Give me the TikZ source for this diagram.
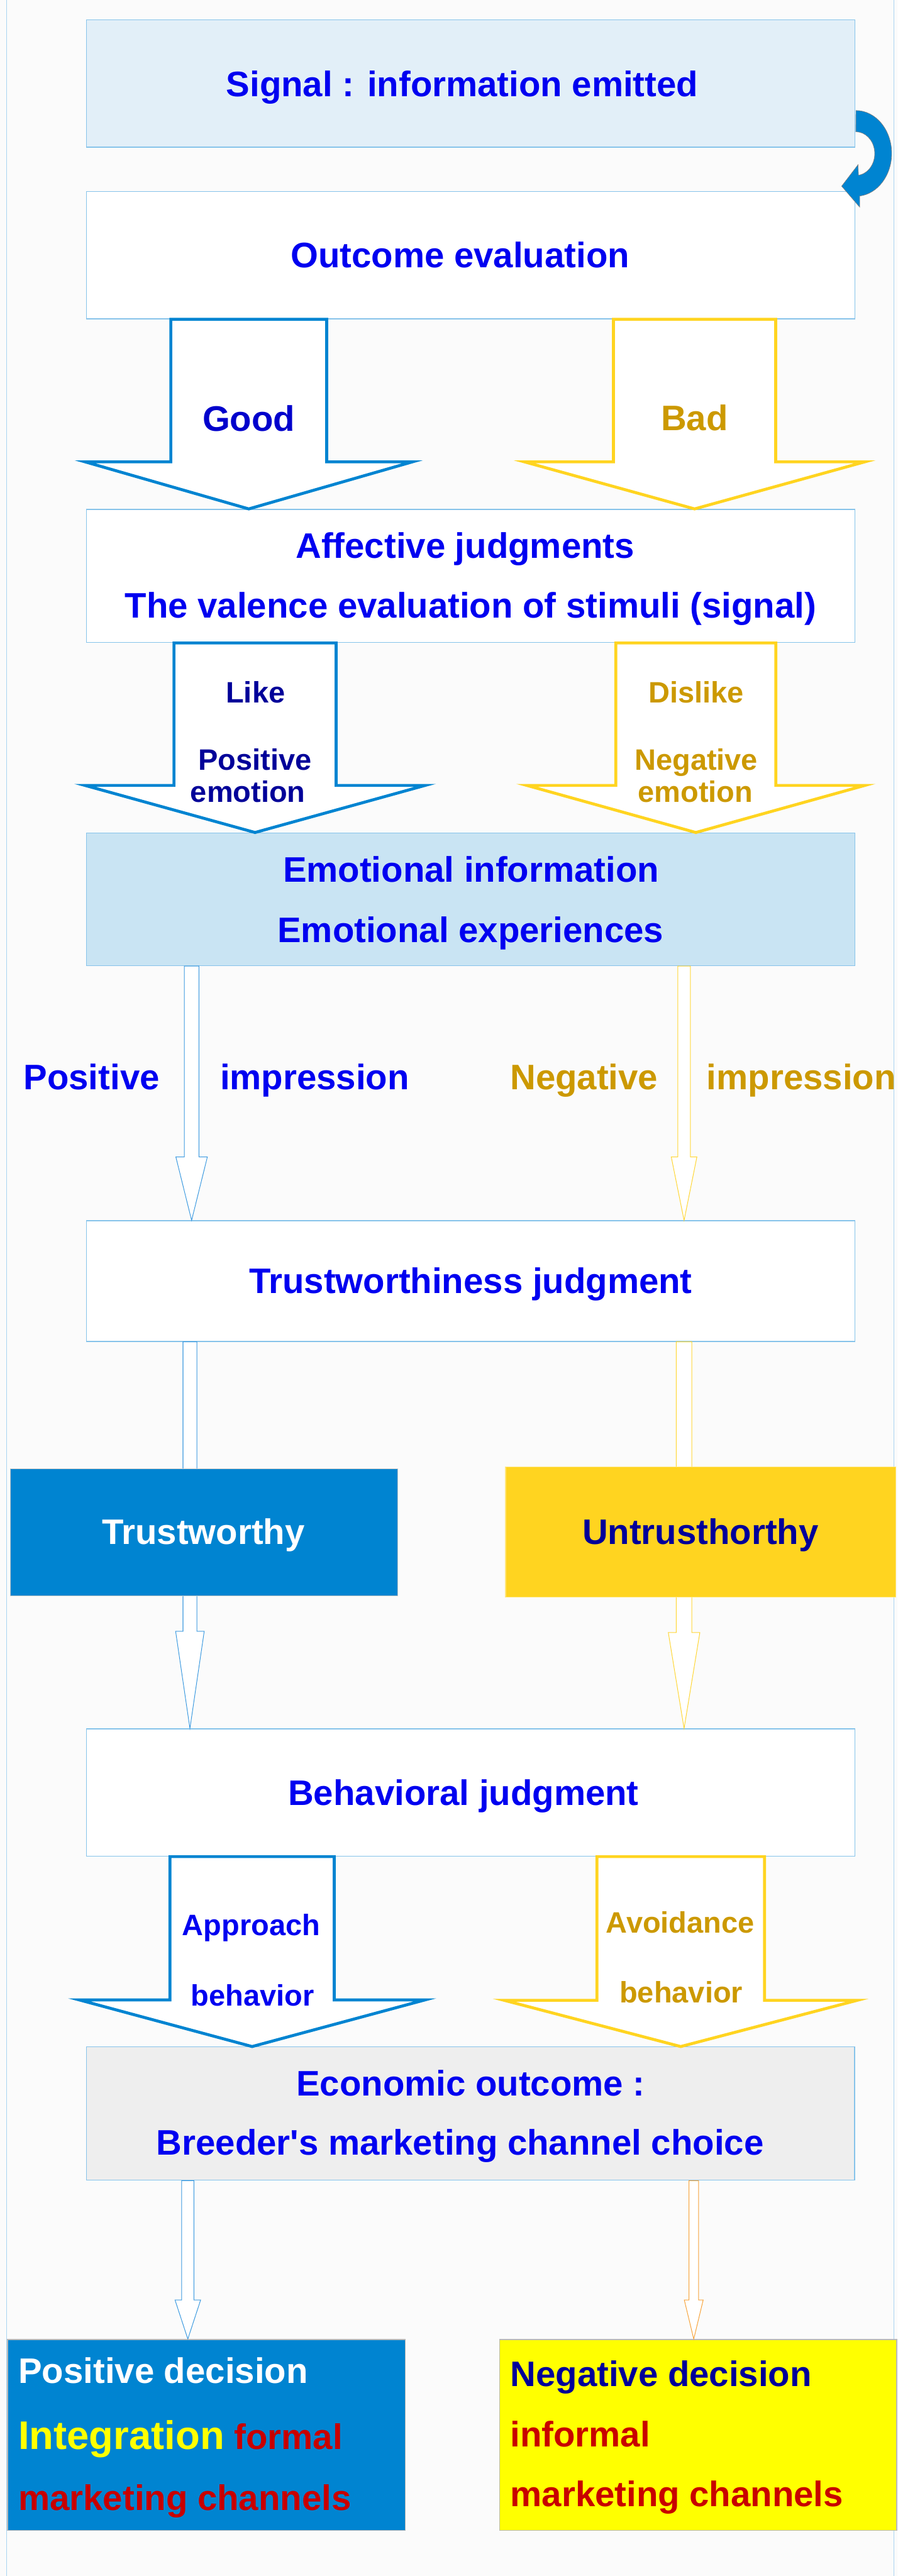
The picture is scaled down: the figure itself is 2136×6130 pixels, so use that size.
\documentclass[tikz,border=0pt]{standalone}
\usepackage{fontspec}
\setmainfont{Liberation Sans}
\usepackage{tikz}
\usetikzlibrary{calc}

\definecolor{bgGray}{HTML}{FBFBFB}
\definecolor{frameBlue}{HTML}{A9D4F2}
\definecolor{boxLine}{HTML}{86C3EA}
\definecolor{sigFill}{HTML}{E2EFF8}
\definecolor{emoFill}{HTML}{C9E4F3}
\definecolor{ecoFill}{HTML}{EEEEEE}
\definecolor{posBlue}{HTML}{0084D1}
\definecolor{negYellow}{HTML}{FFD420}
\definecolor{decYellow}{HTML}{FFFF00}
\definecolor{thinBlue}{HTML}{3C9AE0}
\definecolor{thinYellow}{HTML}{FFD633}
\definecolor{thinOrange}{HTML}{F7A33A}
\definecolor{txtBlue}{HTML}{0000F0}
\definecolor{txtGood}{HTML}{0000CC}
\definecolor{txtNavy}{HTML}{000099}
\definecolor{txtGold}{HTML}{CC9900}
\definecolor{txtRed}{HTML}{C80000}
\definecolor{txtYellow}{HTML}{FFFF00}

% block arrow from #2 down to #3: shaft half width, wing half width, head length
\newcommand{\hollowarrow}[6]{%
	\draw[#1] let \p1=(#2), \p2=(#3) in
		(\x1-#4,\y1) -- (\x1-#4,\y2+#6) -- (\x1-#5,\y2+#6) -- (\x2,\y2)
		-- (\x1+#5,\y2+#6) -- (\x1+#4,\y2+#6) -- (\x1+#4,\y1) -- cycle;}

\begin{document}
\begin{tikzpicture}[x=0.1mm,y=-0.1mm,
		box/.style={draw=boxLine,line width=0.2mm,minimum width=182.9mm,minimum height=30.3mm,inner sep=0pt},
		txt/.style={font=\bfseries\fontsize{24}{29}\selectfont,anchor=base,inner sep=0pt,text=txtBlue},
		small/.style={font=\bfseries\fontsize{20}{24}\selectfont},
		bigpos/.style={draw=posBlue,line width=0.7mm,fill=white,line join=miter},
		bigneg/.style={draw=negYellow,line width=0.7mm,fill=white,line join=miter},
		thinpos/.style={draw=thinBlue,line width=0.15mm,fill=white},
		thinneg/.style={draw=thinYellow,line width=0.15mm,fill=white},
		thinorange/.style={draw=thinOrange,line width=0.15mm,fill=white}]
	\useasboundingbox (0,0) rectangle (2136,6130);
	\fill[bgGray] (0,0) rectangle (2136,6130);
	\draw[frameBlue,line width=0.15mm] (16,0) -- (16,6130) (2128,0) -- (2128,6130);

	\node[box,fill=sigFill] (sig) at (1120.5,198.5) {};
	\node[box,fill=white] (outc) at (1120.5,607.5) {};
	\node[box,fill=white,minimum height=31.7mm] (aff) at (1120.5,1370.5) {};
	\node[box,fill=emoFill,minimum height=31.6mm] (emo) at (1120.5,2140) {};
	\node[box,fill=white,minimum height=28.7mm] (trust) at (1120.5,3048.5) {};
	\node[box,fill=white] (behav) at (1120.5,4265.5) {};
	\node[box,fill=ecoFill,minimum width=182.8mm,minimum height=31.7mm] (econ) at (1120,5029.5) {};
	\node[box,draw=gray!55,fill=posBlue,minimum width=94.7mm,minimum height=45.4mm] (posdec) at (491.5,5794) {};
	\node[box,draw=gray!55,fill=decYellow,minimum width=94.5mm,minimum height=45.4mm] (negdec) at (1661.5,5794) {};

	\fill[posBlue,draw=gray,line width=0.1mm] (2037,263)
		arc[start angle=90,end angle=-84,x radius=8.5mm,y radius=10.2mm]
		-- (2046,493) -- (2003,443) -- (2042,392) -- (2043,417)
		arc[start angle=-82,end angle=90,x radius=4.5mm,y radius=5.2mm] -- cycle;

	\coordinate (colGood) at (592,0);
	\coordinate (colBad) at (1653,0);
	\coordinate (colLike) at (607,0);
	\coordinate (colDislike) at (1656,0);
	\coordinate (colEmoP) at (456,0);
	\coordinate (colEmoN) at (1628,0);
	\coordinate (colTrP) at (452,0);
	\coordinate (colTrN) at (1628,0);
	\coordinate (colAppr) at (600,0);
	\coordinate (colAvoid) at (1620,0);
	\coordinate (colEcP) at (447,0);
	\coordinate (colEcN) at (1651,0);

	\hollowarrow{bigpos}{outc.south -| colGood}{aff.north -| colGood}{18.55mm}{38.95mm}{11.2mm}
	\hollowarrow{bigneg}{outc.south -| colBad}{aff.north -| colBad}{19.3mm}{40.5mm}{11.2mm}
	\hollowarrow{bigpos}{aff.south -| colLike}{emo.north -| colLike}{19.3mm}{40.45mm}{11.2mm}
	\hollowarrow{bigneg}{aff.south -| colDislike}{emo.north -| colDislike}{19.05mm}{40.2mm}{11.2mm}
	\hollowarrow{thinpos}{emo.south -| colEmoP}{trust.north -| colEmoP}{1.75mm}{3.75mm}{15.1mm}
	\hollowarrow{thinneg}{emo.south -| colEmoN}{trust.north -| colEmoN}{1.5mm}{3.05mm}{15.1mm}
	\hollowarrow{thinpos}{trust.south -| colTrP}{behav.north -| colTrP}{1.65mm}{3.4mm}{23.1mm}
	\hollowarrow{thinneg}{trust.south -| colTrN}{behav.north -| colTrN}{1.85mm}{3.75mm}{22.8mm}
	\hollowarrow{bigpos}{behav.south -| colAppr}{econ.north -| colAppr}{19.55mm}{41.15mm}{11.1mm}
	\hollowarrow{bigneg}{behav.south -| colAvoid}{econ.north -| colAvoid}{19.95mm}{42mm}{11mm}
	\hollowarrow{thinpos}{econ.south -| colEcP}{posdec.north -| colEcP}{1.45mm}{3.05mm}{9.3mm}
	\hollowarrow{thinorange}{econ.south -| colEcN}{negdec.north -| colEcN}{1.15mm}{2.25mm}{9.3mm}

	\node[box,draw=gray!45,fill=posBlue,minimum width=92.2mm] (twy) at (486,3646.5) {};
	\node[box,draw=negYellow!60,fill=negYellow,minimum width=92.9mm,minimum height=31mm] (utwy) at (1667.5,3646) {};

	\node[txt] (sig-t) at (1100,230) {Signal : information emitted};
	\node[txt] (outc-t) at (1095,637) {Outcome evaluation};
	\node[txt,text=txtGood] (good-t) at (592,1026) {Good};
	\node[txt,text=txtGold] (bad-t) at (1653,1024) {Bad};
	\node[txt] (aff-a) at (1107,1328) {Affective judgments};
	\node[txt] (aff-b) at (1120,1471) {The valence evaluation of stimuli (signal)};
	\node[txt,small,text=txtNavy] (like-a) at (608,1672) {Like};
	\node[txt,small,text=txtNavy] (like-b) at (607,1832) {Positive};
	\node[txt,small,text=txtNavy] (like-c) at (590,1909) {emotion};
	\node[txt,small,text=txtGold] (dislike-a) at (1657,1672) {Dislike};
	\node[txt,small,text=txtGold] (dislike-b) at (1657,1832) {Negative};
	\node[txt,small,text=txtGold] (dislike-c) at (1655,1909) {emotion};
	\node[txt] (emo-a) at (1121,2099) {Emotional information};
	\node[txt] (emo-b) at (1120,2242) {Emotional experiences};
	\node[txt] (posimp-a) at (218,2593) {Positive};
	\node[txt] (posimp-b) at (749,2593) {impression};
	\node[txt,text=txtGold] (negimp-a) at (1390,2593) {Negative};
	\node[txt,text=txtGold] (negimp-b) at (1907,2593) {impression};
	\node[txt] (trust-t) at (1120,3078) {Trustworthiness judgment};
	\node[txt,text=white] (twy-t) at (484,3675) {Trustworthy};
	\node[txt,text=txtNavy] (utwy-t) at (1667,3675) {Untrusthorthy};
	\node[txt] (behav-t) at (1103,4296) {Behavioral judgment};
	\node[txt,small] (appr-a) at (598,4605) {Approach};
	\node[txt,small] (appr-b) at (601,4774) {behavior};
	\node[txt,small,text=txtGold] (avoid-a) at (1619,4599) {Avoidance};
	\node[txt,small,text=txtGold] (avoid-b) at (1621,4766) {behavior};
	\node[txt] (econ-a) at (1120,4988) {Economic outcome :};
	\node[txt] (econ-b) at (1095,5128) {Breeder\textquotesingle s marketing channel choice};
	\node[txt,anchor=base west,text=white] (posdec-a) at (43,5671) {Positive decision};
	\node[txt,anchor=base west,text=txtRed] (posdec-b) at (43,5829) {\textcolor{txtYellow}{\fontsize{27}{32}\selectfont Integration} formal};
	\node[txt,anchor=base west,text=txtRed] (posdec-c) at (43,5974) {marketing channels};
	\node[txt,anchor=base west,text=txtNavy] (negdec-a) at (1214,5679) {Negative decision};
	\node[txt,anchor=base west,text=txtRed] (negdec-b) at (1214,5823) {informal};
	\node[txt,anchor=base west,text=txtRed] (negdec-c) at (1214,5964) {marketing channels};
\end{tikzpicture}
\end{document}
